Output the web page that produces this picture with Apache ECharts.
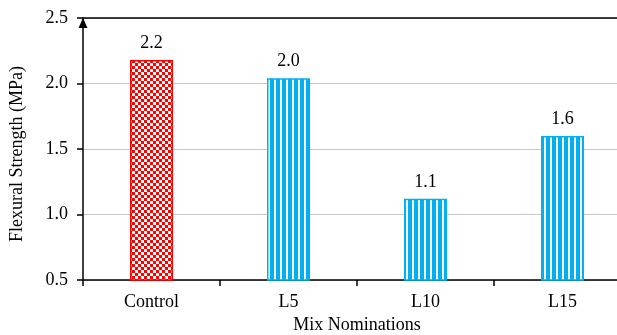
<!DOCTYPE html>
<html><head><meta charset="utf-8">
<script src="https://cdn.jsdelivr.net/npm/echarts@6/dist/echarts.min.js"></script>
<style>html,body{margin:0;padding:0;background:#fff;overflow:hidden}#c{width:631px;height:335px}</style>
</head><body><div id="c"></div>
<script>
const categories = ['Control', 'L5', 'L10', 'L15'];
const values = [2.18, 2.04, 1.12, 1.60];
const valueLabels = ['2.2', '2.0', '1.1', '1.6'];
const yTicks = [0.5, 1.0, 1.5, 2.0, 2.5];

function checker() {
  const c = document.createElement('canvas'); c.width = 6; c.height = 6;
  const g = c.getContext('2d');
  g.fillStyle = '#fff'; g.fillRect(0,0,6,6);
  g.fillStyle = '#ff0000'; g.fillRect(0,0,3,3); g.fillRect(3,3,3,3);
  return c;
}
function stripes() {
  const c = document.createElement('canvas'); c.width = 6; c.height = 6;
  const g = c.getContext('2d');
  g.fillStyle = '#fff'; g.fillRect(0,0,6,6);
  g.fillStyle = '#00b0f0'; g.fillRect(0,0,4,6);
  return c;
}
const font = '"Liberation Serif", "Times New Roman", serif';
const chart = echarts.init(document.getElementById('c'));
chart.setOption({
  animation: false,
  textStyle: { fontFamily: font },
  grid: { left: 83, right: 0, top: 18, bottom: 55, containLabel: false, outerBoundsMode: 'none' },
  xAxis: [{
    type: 'category', data: categories,
    name: 'Mix Nominations', nameLocation: 'middle', nameGap: 36,
    nameTextStyle: { fontFamily: font, fontSize: 18, color: '#000' },
    axisLine: { lineStyle: { color: '#000', width: 1.5 } },
    axisTick: { show: true, length: 6, lineStyle: { color: '#000', width: 1.5 } },
    axisLabel: { fontFamily: font, fontSize: 18, color: '#000', margin: 13 }
  }, {
    type: 'category', data: categories, position: 'top',
    axisLine: { show: true, lineStyle: { color: '#000', width: 1.5 } },
    axisTick: { show: false }, axisLabel: { show: false }
  }],
  yAxis: {
    type: 'value', min: 0.5, max: 2.5, interval: 0.5,
    name: 'Flexural Strength (MPa)', nameLocation: 'middle', nameGap: 57,
    nameTextStyle: { fontFamily: font, fontSize: 18, color: '#000', padding: [0, 10, 0, 0] },
    axisLine: { show: true, symbol: ['none', 'triangle'], symbolSize: [9, 10], symbolOffset: [0, -5],
      lineStyle: { color: '#000', width: 1.5 } },
    axisTick: { show: true, length: 6, lineStyle: { color: '#000', width: 1.5 } },
    axisLabel: { fontFamily: font, fontSize: 18, color: '#000', margin: 15,
      formatter: v => v.toFixed(1) },
    splitLine: { lineStyle: { color: '#c8c8c8', width: 1.2 } }
  },
  series: [{
    type: 'bar', barWidth: 43,
    data: values.map((v, i) => ({
      value: v,
      itemStyle: i === 0
        ? { color: { image: checker(), repeat: 'repeat' }, borderColor: '#ff0000', borderWidth: 1.5 }
        : { color: { image: stripes(), repeat: 'repeat' }, borderColor: '#00b0f0', borderWidth: 1.5 }
    })),
    label: { show: true, position: 'top', distance: 8, fontFamily: font, fontSize: 18, color: '#000',
      formatter: p => valueLabels[p.dataIndex] }
  }]
});
</script></body></html>
